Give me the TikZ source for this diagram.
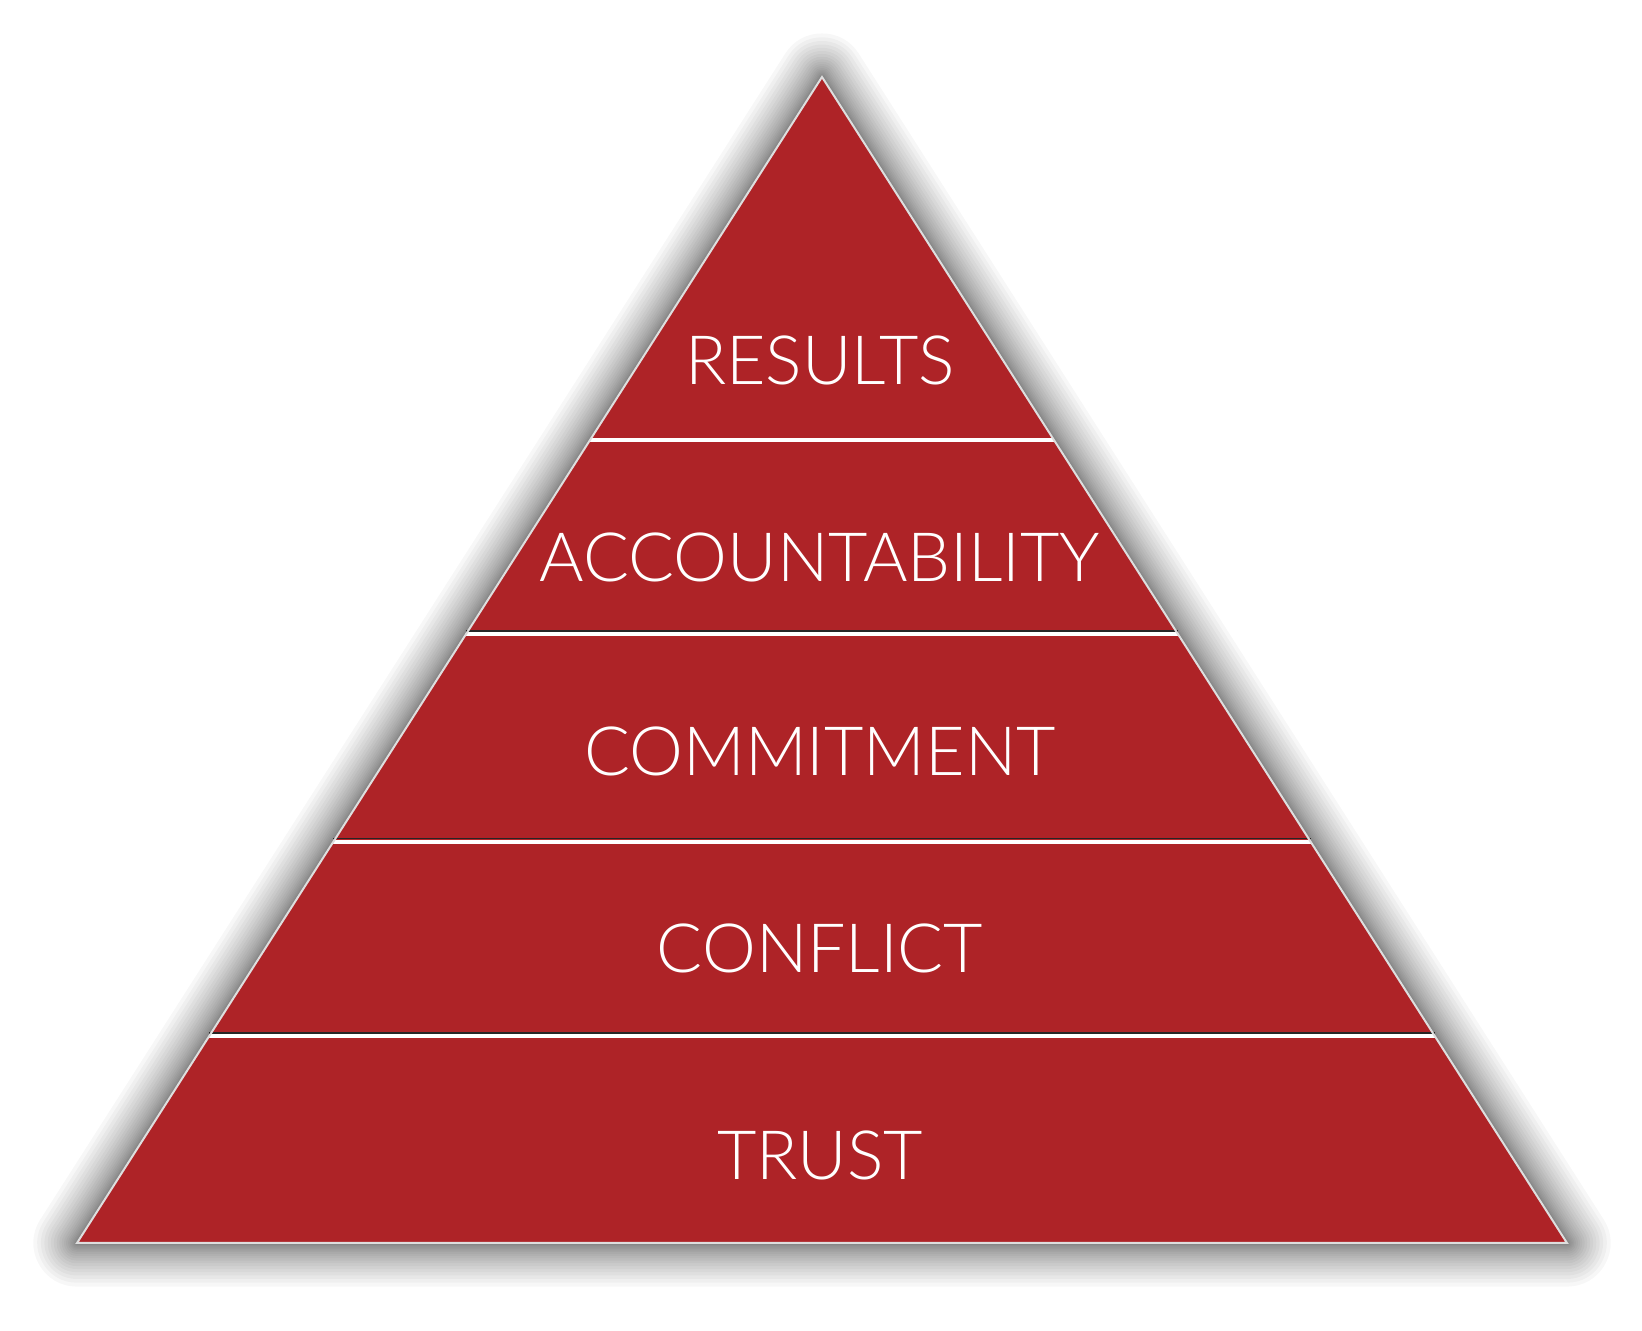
\documentclass[tikz,border=0pt]{standalone}
\usepackage{fontspec}
\IfFontExistsTF{Lato Light}{\setmainfont{Lato Light}}{\setmainfont{TeX Gyre Heros}}
\usetikzlibrary{positioning,calc}

\definecolor{pyramidred}{RGB}{174,35,39}
\definecolor{rimgray}{RGB}{222,222,222}

\tikzset{
  layer label/.style={text=white,font=\fontsize{68}{68}\selectfont,anchor=base,inner sep=0pt},
  divider/.style={white,line width=4pt},
  divider shade/.style={black!85,line width=1.2pt},
  soft shadow/.style={draw=black,line join=round,draw opacity=0.03},
}

\begin{document}
\begin{tikzpicture}[x=1pt,y=1pt]

                \fill[white] (0,0) rectangle (1642,1331);

                \coordinate (apex) at (822,1254);

                \coordinate (bl) at (77,88);

                \coordinate (br) at (1567,88);

                

                % shadow

                \foreach \i in {1,...,22} {

                    \pgfmathsetmacro\w{0.18*\i*\i}

                    \path[soft shadow,line width=\w pt,yshift=-10pt] (apex) -- (br) -- (bl) -- cycle;

                }

                \fill[pyramidred] (apex) -- (br) -- (bl) -- cycle;

                % layer borders

                \draw[divider] ($(apex)!0.3113!(bl)$) -- ($(apex)!0.3113!(br)$);

                \foreach \f in {0.4777,0.6560,0.8225} {

                    \draw[divider shade] ($(apex)!\f!(bl)+(0,3)$) -- ($(apex)!\f!(br)+(0,3)$);

                    \draw[divider] ($(apex)!\f!(bl)$) -- ($(apex)!\f!(br)$);

                }

                \draw[rimgray,line width=2pt] (apex) -- (br) -- (bl) -- cycle;

                

                \node[layer label] (results) at (820,946) {RESULTS};

                \node[layer label] (accountability) at (820,749) {ACCOUNTABILITY};

                \node[layer label] (commitment) at (820,555) {COMMITMENT};

                \node[layer label] (conflict) at (820,358) {CONFLICT};

                \node[layer label] (trust) at (820,151) {TRUST};

            \end{tikzpicture}
\end{document}
